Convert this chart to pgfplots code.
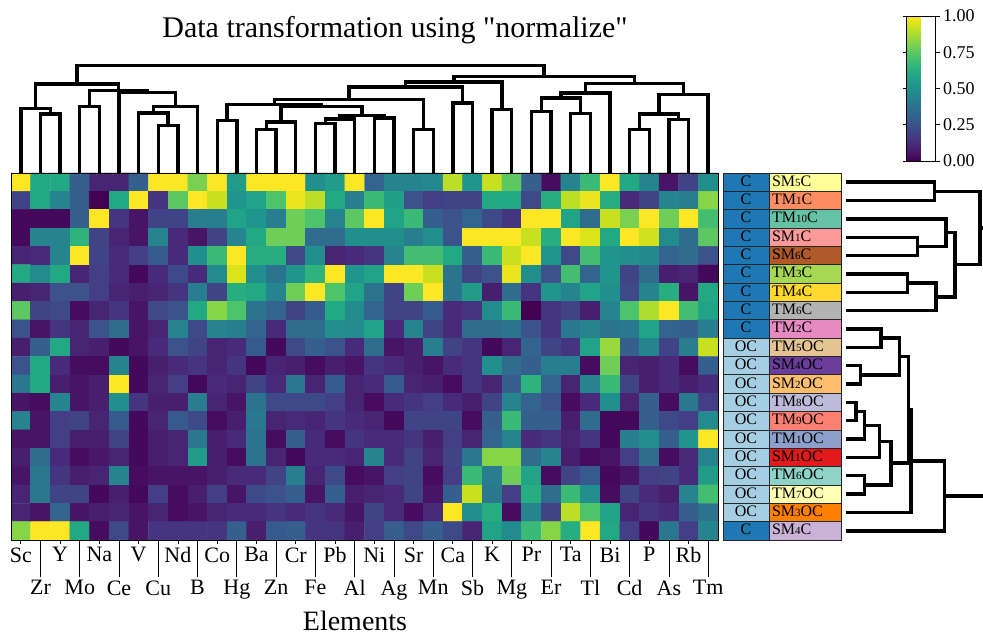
\documentclass[border=0pt]{standalone}
\usepackage{pgfplots}
\pgfplotsset{compat=1.18}
\usepackage{fontspec}
\setmainfont{Liberation Serif}
\definecolor{cC}{HTML}{1F78B4}
\definecolor{cOC}{HTML}{A6CEE3}
\definecolor{r0}{HTML}{FFFF99}
\definecolor{r1}{HTML}{FC8D62}
\definecolor{r2}{HTML}{66C2A5}
\definecolor{r3}{HTML}{FB9A99}
\definecolor{r4}{HTML}{B15928}
\definecolor{r5}{HTML}{A6D854}
\definecolor{r6}{HTML}{FFD92F}
\definecolor{r7}{HTML}{B3B3B3}
\definecolor{r8}{HTML}{E78AC3}
\definecolor{r9}{HTML}{E5C494}
\definecolor{r10}{HTML}{6A3D9A}
\definecolor{r11}{HTML}{FDBF6F}
\definecolor{r12}{HTML}{BEBADA}
\definecolor{r13}{HTML}{FB8072}
\definecolor{r14}{HTML}{8DA0CB}
\definecolor{r15}{HTML}{E31A1C}
\definecolor{r16}{HTML}{8DD3C7}
\definecolor{r17}{HTML}{FFFFB3}
\definecolor{r18}{HTML}{FF7F00}
\definecolor{r19}{HTML}{CAB2D6}
\newcommand{\sn}[1]{{\fontsize{11}{12}\selectfont #1}}
\tikzset{
  cellL/.style={draw=black!85, line width=0.7pt, minimum width=46pt, minimum height=18.35pt, inner sep=0pt, text height=11pt, text depth=3pt, font=\fontsize{16}{17}\selectfont, align=center},
  cellR/.style={draw=black!85, line width=0.7pt, text width=66pt, inner xsep=3pt, inner ysep=0pt, minimum height=18.35pt, text height=11pt, text depth=3pt, font=\fontsize{16}{17}\selectfont, align=left},
}
\pgfplotsset{dend/.style={black, line width=3.4pt, line join=miter, line cap=butt, mark=none}}
\begin{document}
\begin{tikzpicture}
\path[use as bounding box] (0pt,0pt) rectangle (983pt,636pt);
% heatmap
\begin{axis}[at={(11pt,96pt)}, anchor=south west, scale only axis, width=707pt, height=367pt,
  xmin=-0.5, xmax=35.5, ymin=-0.5, ymax=19.5, y dir=reverse, enlargelimits=false,
  axis on top, axis line style={black, line width=0.8pt},
  ytick=\empty, xtick pos=bottom, tick align=outside, major tick length=4pt,
  xtick={0,2,...,34},
  xticklabels={Sc,Y,Na,V,Nd,Co,Ba,Cr,Pb,Ni,Sr,Ca,K,Pr,Ta,Bi,P,Rb},
  extra x ticks={1,3,...,35},
  extra x tick labels={Zr,Mo,Ce,Cu,B,Hg,Zn,Fe,Al,Ag,Mn,Sb,Mg,Er,Tl,Cd,As,Tm},
  extra x tick style={major tick length=37pt},
  x tick label style={font=\fontsize{22}{24}\selectfont},
  x tick style={black, line width=0.8pt},
  colormap/viridis, point meta min=0, point meta max=1,
  colorbar,
  colorbar style={at={(parent axis.north east)}, anchor=north west, xshift=180pt, yshift=157pt,
    scale only axis, width=29pt, height=145pt,
    ytick={0,0.25,0.5,0.75,1}, yticklabels={0.00,0.25,0.50,0.75,1.00},
    yticklabel style={font=\fontsize{18}{20}\selectfont},
    tick align=outside, major tick length=4pt, y tick style={black, line width=0.8pt},
    axis line style={black, line width=0.8pt}},
]
\addplot[matrix plot*, mesh/cols=36, point meta=explicit] table[header=false, row sep=\\,
  x expr={mod(\coordindex,36)}, y expr={floor((\coordindex+0.5)/36)}, meta index=0] {
1.0\\0.6\\0.6\\0.3\\0.1\\0.1\\0.3\\1.0\\1.0\\0.8\\1.0\\0.55\\1.0\\1.0\\1.0\\0.5\\0.55\\1.0\\0.32\\0.45\\0.45\\0.47\\0.9\\0.52\\0.92\\0.75\\0.3\\0.03\\0.45\\0.68\\1.0\\0.6\\0.45\\0.05\\0.2\\0.5\\
0.2\\0.6\\0.45\\0.3\\0.0\\0.6\\1.0\\0.15\\0.75\\1.0\\0.92\\0.52\\0.58\\0.72\\0.97\\0.9\\0.6\\0.42\\0.68\\0.57\\0.25\\0.18\\0.2\\0.2\\0.6\\0.6\\0.22\\0.62\\0.9\\0.97\\0.62\\0.12\\0.2\\0.45\\0.42\\0.82\\
0.02\\0.02\\0.02\\0.3\\1.0\\0.15\\0.05\\0.2\\0.2\\0.42\\0.42\\0.58\\0.52\\0.42\\0.78\\0.72\\0.45\\0.75\\1.0\\0.58\\0.68\\0.3\\0.25\\0.32\\0.22\\0.15\\1.0\\1.0\\0.58\\0.35\\0.92\\0.8\\1.0\\0.78\\1.0\\0.7\\
0.02\\0.45\\0.45\\0.65\\0.2\\0.1\\0.05\\0.45\\0.12\\0.05\\0.2\\0.45\\0.6\\0.78\\0.78\\0.35\\0.35\\0.5\\0.5\\0.5\\0.42\\0.5\\0.25\\1.0\\1.0\\1.0\\0.92\\0.62\\1.0\\0.95\\0.6\\1.0\\0.93\\0.48\\0.35\\0.75\\
0.1\\0.12\\0.45\\1.0\\0.2\\0.12\\0.18\\0.28\\0.12\\0.5\\0.68\\1.0\\0.62\\0.62\\0.22\\0.5\\0.1\\0.12\\0.15\\0.45\\0.7\\0.7\\0.6\\0.3\\0.68\\0.92\\1.0\\0.52\\0.22\\0.7\\0.52\\0.5\\0.47\\0.32\\0.35\\0.25\\
0.6\\0.48\\0.6\\0.1\\0.18\\0.12\\0.02\\0.12\\0.22\\0.12\\0.48\\0.95\\0.5\\0.38\\0.52\\0.65\\1.0\\0.52\\0.58\\1.0\\1.0\\0.92\\0.38\\0.2\\0.25\\0.97\\0.5\\0.25\\0.7\\0.32\\0.52\\0.2\\0.35\\0.08\\0.1\\0.02\\
0.08\\0.1\\0.25\\0.25\\0.18\\0.1\\0.08\\0.1\\0.15\\0.42\\0.2\\0.62\\0.6\\0.45\\0.78\\1.0\\0.72\\0.58\\0.38\\0.2\\0.78\\1.0\\0.38\\0.55\\0.08\\0.35\\0.15\\0.52\\0.45\\0.58\\0.5\\0.22\\0.45\\0.62\\0.05\\0.6\\
0.75\\0.2\\0.22\\0.03\\0.1\\0.15\\0.05\\0.22\\0.25\\0.6\\0.82\\0.72\\0.38\\0.32\\0.2\\0.28\\0.6\\0.48\\0.32\\0.2\\0.2\\0.28\\0.12\\0.15\\0.48\\0.68\\0.0\\0.15\\0.2\\0.08\\0.45\\0.72\\0.88\\1.0\\0.7\\0.58\\
0.25\\0.05\\0.15\\0.1\\0.25\\0.35\\0.05\\0.1\\0.45\\0.22\\0.45\\0.42\\0.32\\0.12\\0.35\\0.35\\0.5\\0.48\\0.58\\0.12\\0.45\\0.2\\0.12\\0.35\\0.35\\0.38\\0.25\\0.15\\0.4\\0.45\\0.38\\0.4\\0.58\\0.32\\0.3\\0.42\\
0.08\\0.3\\0.6\\0.1\\0.08\\0.02\\0.05\\0.12\\0.25\\0.2\\0.1\\0.12\\0.28\\0.02\\0.22\\0.3\\0.25\\0.12\\0.35\\0.05\\0.08\\0.42\\0.2\\0.15\\0.02\\0.1\\0.32\\0.2\\0.15\\0.58\\0.85\\0.3\\0.45\\0.2\\0.42\\0.92\\
0.25\\0.6\\0.12\\0.03\\0.03\\0.45\\0.02\\0.08\\0.12\\0.15\\0.1\\0.15\\0.02\\0.1\\0.08\\0.03\\0.08\\0.05\\0.15\\0.12\\0.08\\0.05\\0.12\\0.15\\0.5\\0.35\\0.3\\0.42\\0.42\\0.03\\0.78\\0.1\\0.08\\0.12\\0.03\\0.3\\
0.4\\0.6\\0.08\\0.05\\0.08\\1.0\\0.02\\0.1\\0.18\\0.02\\0.12\\0.1\\0.2\\0.12\\0.4\\0.1\\0.28\\0.1\\0.12\\0.28\\0.1\\0.08\\0.03\\0.15\\0.1\\0.3\\0.65\\0.32\\0.1\\0.45\\0.68\\0.2\\0.08\\0.12\\0.08\\0.12\\
0.05\\0.03\\0.45\\0.05\\0.08\\0.5\\0.15\\0.08\\0.08\\0.42\\0.1\\0.05\\0.38\\0.22\\0.22\\0.22\\0.18\\0.1\\0.03\\0.12\\0.15\\0.18\\0.12\\0.08\\0.2\\0.45\\0.32\\0.25\\0.03\\0.12\\0.5\\0.1\\0.3\\0.03\\0.4\\0.18\\
0.45\\0.05\\0.18\\0.2\\0.1\\0.28\\0.02\\0.1\\0.28\\0.22\\0.03\\0.08\\0.4\\0.1\\0.12\\0.1\\0.15\\0.12\\0.1\\0.02\\0.2\\0.2\\0.2\\0.03\\0.3\\0.68\\0.3\\0.3\\0.08\\0.35\\0.02\\0.02\\0.3\\0.22\\0.18\\0.48\\
0.05\\0.05\\0.18\\0.08\\0.08\\0.2\\0.02\\0.08\\0.1\\0.4\\0.08\\0.12\\0.38\\0.03\\0.3\\0.12\\0.03\\0.15\\0.12\\0.12\\0.15\\0.08\\0.18\\0.1\\0.32\\0.45\\0.12\\0.15\\0.1\\0.15\\0.02\\0.42\\0.5\\0.3\\0.52\\1.0\\
0.08\\0.35\\0.12\\0.03\\0.06\\0.1\\0.02\\0.08\\0.1\\0.55\\0.08\\0.03\\0.38\\0.1\\0.02\\0.12\\0.12\\0.1\\0.45\\0.12\\0.2\\0.1\\0.2\\0.4\\0.82\\0.82\\0.35\\0.45\\0.08\\0.03\\0.05\\0.18\\0.35\\0.03\\0.12\\0.45\\
0.05\\0.4\\0.15\\0.08\\0.1\\0.45\\0.03\\0.05\\0.05\\0.05\\0.08\\0.12\\0.12\\0.2\\0.42\\0.1\\0.22\\0.03\\0.05\\0.18\\0.2\\0.03\\0.18\\0.68\\0.42\\0.78\\0.58\\0.03\\0.2\\0.28\\0.02\\0.05\\0.18\\0.2\\0.12\\0.55\\
0.1\\0.4\\0.2\\0.2\\0.02\\0.08\\0.02\\0.18\\0.03\\0.08\\0.18\\0.05\\0.22\\0.25\\0.3\\0.05\\0.3\\0.08\\0.1\\0.12\\0.2\\0.05\\0.3\\0.92\\0.4\\0.18\\0.62\\0.35\\0.68\\0.5\\0.03\\0.2\\0.12\\0.08\\0.45\\0.7\\
0.1\\0.05\\0.32\\0.05\\0.08\\0.1\\0.05\\0.1\\0.03\\0.05\\0.1\\0.12\\0.12\\0.15\\0.12\\0.15\\0.12\\0.05\\0.2\\0.12\\0.03\\0.12\\1.0\\0.5\\0.62\\0.03\\0.45\\0.2\\0.9\\0.72\\0.58\\0.1\\0.15\\0.12\\0.3\\0.38\\
0.82\\1.0\\1.0\\0.6\\0.03\\0.22\\0.05\\0.15\\0.15\\0.15\\0.15\\0.3\\0.08\\0.28\\0.3\\0.15\\0.15\\0.08\\0.18\\0.3\\0.22\\0.3\\0.22\\0.1\\0.58\\0.48\\0.68\\0.82\\0.62\\1.0\\0.6\\0.18\\0.02\\0.4\\0.18\\0.45\\
};
\end{axis}
% top dendrogram
\begin{axis}[at={(11pt,463pt)}, anchor=south west, scale only axis, width=707pt, height=110pt,
  xmin=-0.5, xmax=35.5, ymin=0, ymax=110, hide axis, clip=false]
\addplot[dend] coordinates {(1,0)(1,59)(2,59)(2,0)};
\addplot[dend] coordinates {(0,0)(0,64.3)(1.5,64.3)(1.5,59)};
\addplot[dend] coordinates {(3,0)(3,66.7)(4,66.7)(4,0)};
\addplot[dend] coordinates {(7,0)(7,47.3)(8,47.3)(8,0)};
\addplot[dend] coordinates {(6,0)(6,60)(7.5,60)(7.5,47.3)};
\addplot[dend] coordinates {(6.75,60)(6.75,66.7)(9,66.7)(9,0)};
\addplot[dend] coordinates {(5,0)(5,80.7)(7.875,80.7)(7.875,66.7)};
\addplot[dend] coordinates {(3.5,66.7)(3.5,82.7)(6.4375,82.7)(6.4375,80.7)};
\addplot[dend] coordinates {(0.75,64.3)(0.75,89)(4.96875,89)(4.96875,82.7)};
\addplot[dend] coordinates {(10,0)(10,52.3)(11,52.3)(11,0)};
\addplot[dend] coordinates {(12,0)(12,43.3)(13,43.3)(13,0)};
\addplot[dend] coordinates {(12.5,43.3)(12.5,51)(14,51)(14,0)};
\addplot[dend] coordinates {(15,0)(15,49.3)(16,49.3)(16,0)};
\addplot[dend] coordinates {(15.5,49.3)(15.5,54)(17,54)(17,0)};
\addplot[dend] coordinates {(18,0)(18,55)(19,55)(19,0)};
\addplot[dend] coordinates {(16.25,54)(16.25,57.7)(18.5,57.7)(18.5,55)};
\addplot[dend] coordinates {(13.25,51)(13.25,66.7)(17.375,66.7)(17.375,57.7)};
\addplot[dend] coordinates {(10.5,52.3)(10.5,68.3)(15.3125,68.3)(15.3125,66.7)};
\addplot[dend] coordinates {(20,0)(20,43.3)(21,43.3)(21,0)};
\addplot[dend] coordinates {(12.906,68.3)(12.906,73.3)(20.5,73.3)(20.5,43.3)};
\addplot[dend] coordinates {(22,0)(22,70)(23,70)(23,0)};
\addplot[dend] coordinates {(16.703,73.3)(16.703,86)(22.5,86)(22.5,70)};
\addplot[dend] coordinates {(24,0)(24,63.3)(25,63.3)(25,0)};
\addplot[dend] coordinates {(19.602,86)(19.602,91)(24.5,91)(24.5,63.3)};
\addplot[dend] coordinates {(26,0)(26,61.7)(27,61.7)(27,0)};
\addplot[dend] coordinates {(28,0)(28,59.3)(29,59.3)(29,0)};
\addplot[dend] coordinates {(26.5,61.7)(26.5,75)(28.5,75)(28.5,59.3)};
\addplot[dend] coordinates {(27.5,75)(27.5,80)(30,80)(30,0)};
\addplot[dend] coordinates {(31,0)(31,43.3)(32,43.3)(32,0)};
\addplot[dend] coordinates {(33,0)(33,53.3)(34,53.3)(34,0)};
\addplot[dend] coordinates {(31.5,43.3)(31.5,59)(33.5,59)(33.5,53.3)};
\addplot[dend] coordinates {(32.5,59)(32.5,78.3)(35,78.3)(35,0)};
\addplot[dend] coordinates {(28.75,80)(28.75,89.3)(33.75,89.3)(33.75,78.3)};
\addplot[dend] coordinates {(22.051,91)(22.051,96.7)(31.25,96.7)(31.25,89.3)};
\addplot[dend] coordinates {(2.859,89)(2.859,107.3)(26.65,107.3)(26.65,96.7)};
\end{axis}
% right dendrogram
\begin{axis}[at={(846pt,96pt)}, anchor=south west, scale only axis, width=137pt, height=367pt,
  xmin=0, xmax=137, ymin=-0.5, ymax=19.5, y dir=reverse, hide axis, clip=true]
\addplot[dend] coordinates {(0,0)(88.3,0)(88.3,1)(0,1)};
\addplot[dend] coordinates {(0,3)(71.7,3)(71.7,4)(0,4)};
\addplot[dend] coordinates {(0,2)(100,2)(100,3.5)(71.7,3.5)};
\addplot[dend] coordinates {(0,5)(61.7,5)(61.7,6)(0,6)};
\addplot[dend] coordinates {(61.7,5.5)(90,5.5)(90,7)(0,7)};
\addplot[dend] coordinates {(100,2.75)(109,2.75)(109,6.25)(90,6.25)};
\addplot[dend] coordinates {(88.3,0.5)(134,0.5)(134,4.5)(109,4.5)};
\addplot[dend] coordinates {(0,8)(35,8)(35,9)(0,9)};
\addplot[dend] coordinates {(0,10)(14.3,10)(14.3,11)(0,11)};
\addplot[dend] coordinates {(35,8.5)(53.3,8.5)(53.3,10.5)(14.3,10.5)};
\addplot[dend] coordinates {(0,12)(10,12)(10,13)(0,13)};
\addplot[dend] coordinates {(10,12.5)(18.3,12.5)(18.3,14)(0,14)};
\addplot[dend] coordinates {(18.3,13.25)(33.3,13.25)(33.3,15)(0,15)};
\addplot[dend] coordinates {(0,16)(18.3,16)(18.3,17)(0,17)};
\addplot[dend] coordinates {(33.3,14.125)(45,14.125)(45,16.5)(18.3,16.5)};
\addplot[dend] coordinates {(53.3,9.5)(62.7,9.5)(62.7,15.3125)(45,15.3125)};
\addplot[dend] coordinates {(62.7,12.406)(65,12.406)(65,18)(0,18)};
\addplot[dend] coordinates {(65,15.203)(98.3,15.203)(98.3,19)(0,19)};
\addplot[dend] coordinates {(134,2.5)(170,2.5)(170,17.1)(98.3,17.1)};
\end{axis}
% row annotations
\begin{axis}[at={(723pt,96pt)}, anchor=south west, scale only axis, width=118pt, height=367pt,
  xmin=0, xmax=118, ymin=-0.5, ymax=19.5, y dir=reverse, hide axis, clip=false]
\node[cellL, fill=cC] at (axis cs:23,0) {C};
\node[cellL, fill=cC] at (axis cs:23,1) {C};
\node[cellL, fill=cC] at (axis cs:23,2) {C};
\node[cellL, fill=cC] at (axis cs:23,3) {C};
\node[cellL, fill=cC] at (axis cs:23,4) {C};
\node[cellL, fill=cC] at (axis cs:23,5) {C};
\node[cellL, fill=cC] at (axis cs:23,6) {C};
\node[cellL, fill=cC] at (axis cs:23,7) {C};
\node[cellL, fill=cC] at (axis cs:23,8) {C};
\node[cellL, fill=cOC] at (axis cs:23,9) {OC};
\node[cellL, fill=cOC] at (axis cs:23,10) {OC};
\node[cellL, fill=cOC] at (axis cs:23,11) {OC};
\node[cellL, fill=cOC] at (axis cs:23,12) {OC};
\node[cellL, fill=cOC] at (axis cs:23,13) {OC};
\node[cellL, fill=cOC] at (axis cs:23,14) {OC};
\node[cellL, fill=cOC] at (axis cs:23,15) {OC};
\node[cellL, fill=cOC] at (axis cs:23,16) {OC};
\node[cellL, fill=cOC] at (axis cs:23,17) {OC};
\node[cellL, fill=cOC] at (axis cs:23,18) {OC};
\node[cellL, fill=cC] at (axis cs:23,19) {C};
\node[cellR, fill=r0] at (axis cs:82,0) {SM\sn{5}C};
\node[cellR, fill=r1] at (axis cs:82,1) {TM\sn{1}C};
\node[cellR, fill=r2] at (axis cs:82,2) {TM\sn{10}C};
\node[cellR, fill=r3] at (axis cs:82,3) {SM\sn{1}C};
\node[cellR, fill=r4] at (axis cs:82,4) {SM\sn{6}C};
\node[cellR, fill=r5] at (axis cs:82,5) {TM\sn{3}C};
\node[cellR, fill=r6] at (axis cs:82,6) {TM\sn{4}C};
\node[cellR, fill=r7] at (axis cs:82,7) {TM\sn{6}C};
\node[cellR, fill=r8] at (axis cs:82,8) {TM\sn{2}C};
\node[cellR, fill=r9] at (axis cs:82,9) {TM\sn{5}OC};
\node[cellR, fill=r10] at (axis cs:82,10) {SM\sn{4}OC};
\node[cellR, fill=r11] at (axis cs:82,11) {SM\sn{2}OC};
\node[cellR, fill=r12] at (axis cs:82,12) {TM\sn{8}OC};
\node[cellR, fill=r13] at (axis cs:82,13) {TM\sn{9}OC};
\node[cellR, fill=r14] at (axis cs:82,14) {TM\sn{1}OC};
\node[cellR, fill=r15] at (axis cs:82,15) {SM\sn{1}OC};
\node[cellR, fill=r16] at (axis cs:82,16) {TM\sn{6}OC};
\node[cellR, fill=r17] at (axis cs:82,17) {TM\sn{7}OC};
\node[cellR, fill=r18] at (axis cs:82,18) {SM\sn{3}OC};
\node[cellR, fill=r19] at (axis cs:82,19) {SM\sn{4}C};
\end{axis}
\node[anchor=base, font=\fontsize{30}{32}\selectfont] at (395pt,598pt) {Data transformation using \textquotedbl normalize\textquotedbl};
\node[anchor=base, font=\fontsize{28}{30}\selectfont] at (355pt,5pt) {Elements};
\end{tikzpicture}
\end{document}
